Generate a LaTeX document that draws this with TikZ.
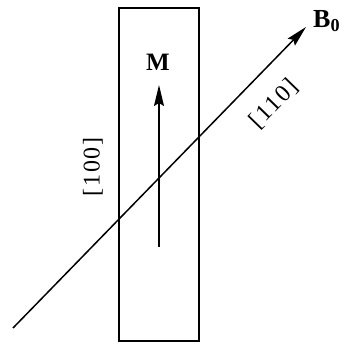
\documentclass[tikz,border=0pt]{standalone}
\usepackage{fontspec}
\setmainfont{Liberation Serif}
\newfontfamily\spacedserif[LetterSpace=8]{Liberation Serif}
\usetikzlibrary{arrows.meta}
\tikzset{
    bigarrow/.style={-{Stealth[length=21pt,width=10pt,inset=3pt]},line width=1.5pt},
    dirlabel/.style={font=\spacedserif\fontsize{24}{28}\selectfont,inner sep=0pt}
}
\begin{document}
\begin{tikzpicture}[x=1pt,y=1pt,every node/.style={font=\fontsize{19}{22}\selectfont}]
    \useasboundingbox (0,0) rectangle (339,345);
    % crystal slab
    \draw[line width=2.4pt] (119,4) rectangle (199,337);
    % field direction
    \coordinate (bstart) at (13,17);
    \coordinate (bend) at (306,318);
    \draw[bigarrow] (bstart) -- (bend);
    \node[anchor=base west,inner sep=0pt,font=\fontsize{26}{30}\selectfont\bfseries] (bzero) at (313,317) {B$_{\mathbf{0}}$};
    % magnetisation
    \coordinate (mstart) at (159,98);
    \coordinate (mend) at (159,260);
    \draw[bigarrow] (mstart) -- (mend);
    \node[font=\fontsize{25}{29}\selectfont\bfseries] (mlabel) at (158,283) {M};
    % crystal axes
    \node[dirlabel,rotate=90] (axisa) at (93,178) {[100]};
    \node[dirlabel,rotate=45.8] (axisb) at (274,241) {[110]};
\end{tikzpicture}
\end{document}
